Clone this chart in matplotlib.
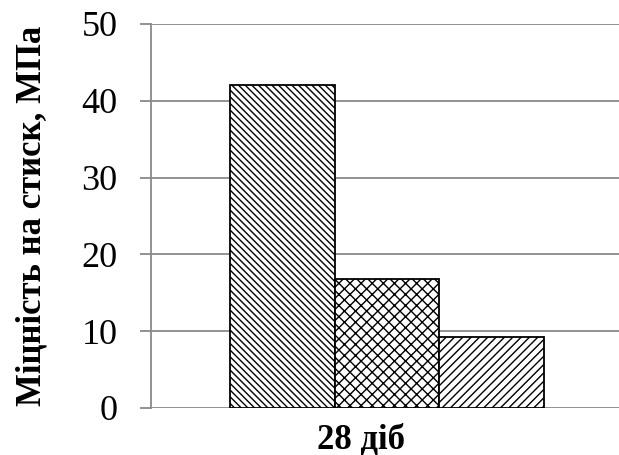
import matplotlib
matplotlib.use('Agg')
import matplotlib.pyplot as plt
import matplotlib.transforms as mtransforms

plt.rcParams['font.family'] = ['Liberation Serif', 'DejaVu Serif']
plt.rcParams['hatch.linewidth'] = 1.0

group = '28 діб'
values = [42, 16.8, 9.2]
hatches = ['\\\\\\\\\\', 'xxx', '////']
offsets = [-1/3, 0, 1/3]
yticks = [0, 10, 20, 30, 40, 50]

fig = plt.figure(figsize=(6.19, 4.55), dpi=100)
ax = fig.add_axes([151/619, 1 - 408/455, 472/619, 384/455])

for off, v, h in zip(offsets, values, hatches):
    ax.bar(off, v, width=1/3, color='white', edgecolor='black', hatch=h,
           linewidth=1.3, zorder=3)

ax.set_xlim(-0.75, 0.75)
ax.set_ylim(0, 50)
ax.set_yticks(yticks)
ax.set_yticklabels([str(t) for t in yticks], fontsize=26)
ax.set_xticks([0])
ax.set_xticklabels([group], fontsize=25, fontweight='bold')
ax.tick_params(axis='x', length=0, pad=11)
# category label sits a bit left of the bar group in the original
shift = mtransforms.ScaledTranslation(-26 / 100, 0, fig.dpi_scale_trans)
for lbl in ax.get_xticklabels():
    lbl.set_transform(lbl.get_transform() + shift)
ax.tick_params(axis='y', length=8, width=1.3, color='#898989', pad=16)
ax.grid(axis='y', color='#898989', linewidth=1.3, zorder=0)
for s in ['top', 'right', 'bottom']:
    ax.spines[s].set_visible(False)
ax.spines['left'].set_color('#898989')
ax.spines['left'].set_linewidth(1.3)
ax.set_ylabel('Міцність на стиск, МПа', fontsize=25, fontweight='bold', labelpad=24)

fig.savefig('out.png', dpi=100)
